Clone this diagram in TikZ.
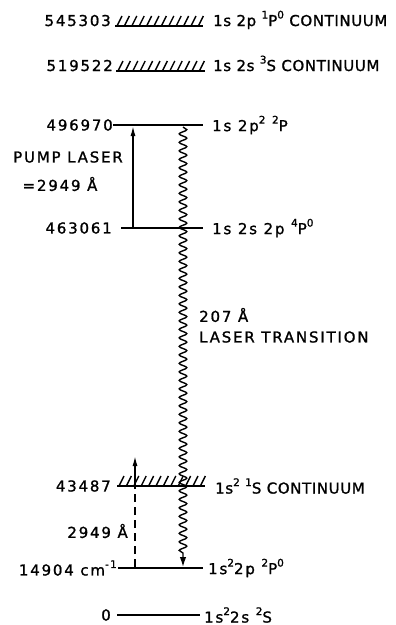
\documentclass[tikz,border=0pt]{standalone}
\usepackage{fontspec}
\setmainfont[LetterSpace=12,FakeBold=1.2]{DejaVu Sans}
\usetikzlibrary{arrows.meta,decorations.pathmorphing,calc}
\newcommand{\su}[1]{\raisebox{0.5em}{\fontsize{10.5}{10}\selectfont #1}}
\tikzset{
  lbl/.style={font=\fontsize{15}{17}\selectfont, inner sep=0pt},
  narrow/.style={font=\fontsize{15}{17}\selectfont\addfontfeature{LetterSpace=4}},
  level/.style={line width=2.6pt},
  hatchline/.style={line width=1.4pt},
  pump/.style={line width=1.4pt, -{Latex[length=10pt,width=5pt]}},
  wavy/.style={line width=1.4pt, decorate, decoration={snake, segment length=8.5pt, amplitude=3.8pt, post length=10pt}},
  wavytip/.style={-{Latex[length=10pt,width=6.5pt]}},
}
\begin{document}
\begin{tikzpicture}[x=1pt,y=-1pt]
\useasboundingbox (0,0) rectangle (396,625);

% continuum 1
\node[lbl, anchor=base east] (v1) at (111,26) {545303};
\node[lbl, narrow, anchor=base west] (c1) at (213,26) {1s 2p \su{1}P\su{0} CONTINUUM};
\coordinate (a1) at (115,26); \coordinate (b1) at (203,26);
\draw[level] (a1) -- (b1);
\foreach \i in {0,...,11} \draw[hatchline] ($(a1)+(2+7.4*\i,0)$) -- ++(5,-10);

% continuum 2
\node[lbl, anchor=base east] (v2) at (113,71) {519522};
\node[lbl, narrow, anchor=base west] (c2) at (213,71) {1s 2s \su{3}S CONTINUUM};
\coordinate (a2) at (116,71); \coordinate (b2) at (205,71);
\draw[level] (a2) -- (b2);
\foreach \i in {0,...,11} \draw[hatchline] ($(a2)+(2+7.4*\i,0)$) -- ++(5,-10);

% 496970
\node[lbl, anchor=east] (v3) at (113,125) {496970};
\node[lbl, anchor=west] (c3) at (212,125) {1s 2p\su{2} \su{2}P};
\coordinate (a3) at (113,125); \coordinate (b3) at (203,125);
\draw[level] (a3) -- (b3);

% 463061
\node[lbl, anchor=east] (v4) at (112,228) {463061};
\node[lbl, anchor=west] (c4) at (212,228) {1s 2s 2p \su{4}P\su{0}};
\coordinate (a4) at (121,228); \coordinate (b4) at (203,228);
\draw[level] (a4) -- (b4);

% pump
\node[lbl, anchor=center] (pl) at (68,157) {PUMP LASER};
\node[lbl, anchor=center] (pw) at (60,184) {=2949 Å};
\coordinate (p0) at (133,228); \coordinate (p1) at (133,126);
\draw[pump] (p0) -- (p1);

% 43487 continuum
\node[lbl, anchor=east] (v5) at (111,486) {43487};
\node[lbl, narrow, anchor=west] (c5) at (215,486) {1s\su{2} \su{1}S CONTINUUM};
\coordinate (a5) at (117,486); \coordinate (b5) at (205,486);
\draw[level] (a5) -- (b5);
\foreach \i in {0,...,11} \draw[hatchline] ($(a5)+(2+7.4*\i,0)$) -- ++(5,-10);

% 14904
\node[lbl, anchor=east] (v6) at (117,568) {14904 cm\su{-1}};
\node[lbl, anchor=west] (c6) at (208,568) {1s\su{2}2p \su{2}P\su{0}};
\coordinate (a6) at (118,568); \coordinate (b6) at (203,568);
\draw[level] (a6) -- (b6);

% 0
\node[lbl, anchor=east] (v7) at (111,615) {0};
\node[lbl, anchor=west] (c7) at (204,615) {1s\su{2}2s \su{2}S};
\coordinate (a7) at (117,615); \coordinate (b7) at (200,615);
\draw[level] (a7) -- (b7);

% laser transition
\coordinate (w0) at (183,127); \coordinate (w1) at (183,567);
\draw[wavy, wavytip] (w0) -- (w1);
\node[lbl, anchor=west] (t1) at (199,315) {207 Å};
\node[lbl, anchor=west] (t2) at (199,337) {LASER TRANSITION};

% dashed photo-ionisation arrow
\coordinate (d0) at (135,567); \coordinate (d1) at (135,486); \coordinate (d2) at (135,456);
\draw[line width=1.4pt, dash pattern=on 8pt off 5pt] (d0) -- (d1);
\draw[pump] (d1) -- (d2);
\node[lbl, anchor=east] (dw) at (128,531) {2949 Å};
\end{tikzpicture}
\end{document}
